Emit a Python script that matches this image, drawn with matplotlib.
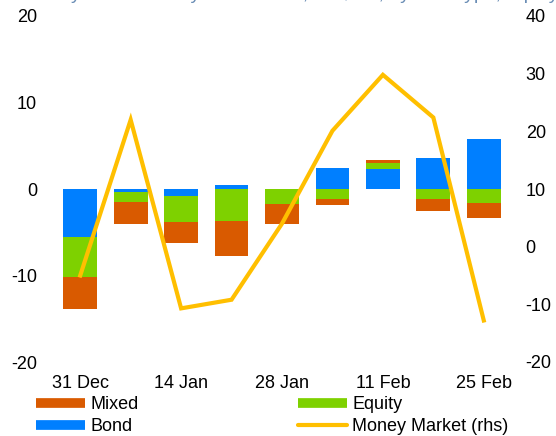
import matplotlib
matplotlib.use("Agg")
import matplotlib.pyplot as plt
from matplotlib.lines import Line2D
import numpy as np

plt.rcParams['font.family'] = ['Liberation Sans', 'DejaVu Sans']
plt.rcParams['axes.unicode_minus'] = False

weeks = ["31 Dec", "7 Jan", "14 Jan", "21 Jan", "28 Jan", "4 Feb", "11 Feb", "18 Feb", "25 Feb"]
tick_labels = ["31 Dec", "", "14 Jan", "", "28 Jan", "", "11 Feb", "", "25 Feb"]
bond = [-5.6, -0.3, -0.8, 0.5, 0.0, 2.4, 2.3, 3.6, 5.8]
equity = [-4.6, -1.2, -3.0, -3.7, -1.7, -1.2, 0.65, -1.2, -1.6]
mixed = [-3.7, -2.5, -2.5, -4.0, -2.3, -0.6, 0.45, -1.3, -1.8]
money_market = [-5.0, 22.0, -10.7, -9.2, 4.0, 20.1, 29.8, 22.4, -12.8]

c_mixed = "#D95A00"
c_equity = "#7ED100"
c_bond = "#007FFF"
c_mm = "#FFBF00"

fig = plt.figure(figsize=(5.56, 4.36), dpi=100)
ax = fig.add_axes([55/556, (436-362)/436, (509-55)/556, (362-16)/436])
x = np.arange(len(weeks))
w = 0.67

pos = np.zeros(len(weeks))
neg = np.zeros(len(weeks))
for vals, col in [(bond, c_bond), (equity, c_equity), (mixed, c_mixed)]:
    v = np.array(vals, dtype=float)
    bottoms = np.where(v >= 0, pos, neg)
    ax.bar(x, v, w, bottom=bottoms, color=col, zorder=2)
    pos = pos + np.where(v >= 0, v, 0)
    neg = neg + np.where(v < 0, v, 0)

ax.set_ylim(-20, 20)
ax.set_yticks([-20, -10, 0, 10, 20])
ax.set_xlim(-0.5, len(weeks) - 0.5)
ax.set_xticks(x)
ax.set_xticklabels(tick_labels)

ax2 = ax.twinx()
ax2.plot(x, money_market, color=c_mm, lw=3, zorder=3, solid_joinstyle='miter')
ax2.set_ylim(-20, 40)
ax2.set_yticks([-20, -10, 0, 10, 20, 30, 40])

for a in (ax, ax2):
    for s in a.spines.values():
        s.set_visible(False)
    a.tick_params(length=0, labelsize=13, colors='black')
ax.tick_params(axis='y', pad=13)
ax.tick_params(axis='x', pad=9)
ax2.tick_params(axis='y', pad=12)

handles = [Line2D([], [], color=c_mixed, lw=7, solid_capstyle='butt'),
           Line2D([], [], color=c_bond, lw=7, solid_capstyle='butt'),
           Line2D([], [], color=c_equity, lw=7, solid_capstyle='butt'),
           Line2D([], [], color=c_mm, lw=3, solid_capstyle='round')]
labels = ["Mixed", "Bond", "Equity", "Money Market (rhs)"]
fig.legend(handles, labels, ncol=2, loc='upper left', bbox_to_anchor=(36/556, 1 - 396/436),
           frameon=False, fontsize=13, handlelength=2.7, handletextpad=0.3,
           columnspacing=8.85, labelspacing=0.27, borderaxespad=0, borderpad=0)

fig.text(0.03, 1.0 + 1/436, "Weekly fund flows by asset class, US$ bn, by fund type, equity group",
         color="#6A8DB5", fontsize=14, va='baseline', ha='left')

fig.savefig("out.png", dpi=100)
